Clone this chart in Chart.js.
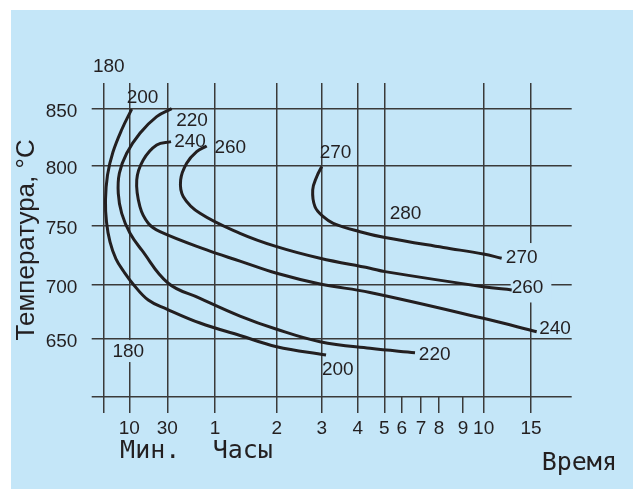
<!DOCTYPE html>
<html>
<head>
<meta charset="utf-8">
<script src="https://cdn.jsdelivr.net/npm/chart.js@4.4.1/dist/chart.umd.min.js"></script>
<style>
  html, body { margin: 0; padding: 0; background: #ffffff; }
  canvas { display: block; }
</style>
</head>
<body>
<canvas id="c" width="633" height="489"></canvas>
<script>
// ---------------- DATA (time in hours, temperature in °C) ----------------
const curveNames = ['200', '220', '240', '260', '270'];

const hours200 = [0.188, 0.120, 0.062, 0.027, 0.014, 0.0205, 0.043, 0.081, 0.133, 0.199, 0.333, 0.495, 0.843, 1.405, 2.0, 3.12];
const temps200 = [849.7, 832.2, 812.0, 792.3, 771.4, 753.1, 736.1, 721.6, 710.5, 700.3, 685.6, 677.4, 664.6, 653.2, 643.3, 636.1];

const hours220 = [0.546, 0.407, 0.260, 0.150, 0.103, 0.096, 0.118, 0.173, 0.275, 0.510, 0.843, 1.405, 2.0, 2.962, 4.462, 6.689];
const temps220 = [850, 843.0, 828.4, 810.9, 793.7, 777.0, 760.3, 743.5, 729.3, 700.9, 687.2, 671.0, 658.9, 647.7, 641.9, 638.1];

const hours240 = [0.539, 0.407, 0.289, 0.232, 0.260, 0.333, 0.436, 0.913, 1.405, 2.0, 2.962, 4.462, 9.98, 15.6];
const temps240 = [821.1, 818.2, 805.0, 788.1, 765.8, 752.0, 744.9, 729.3, 719.8, 709.4, 700.3, 692.5, 668.9, 656.7];

const hours260 = [0.913, 0.808, 0.703, 0.640, 0.668, 0.843, 1.405, 2.0, 2.962, 4.462, 5.04, 9.98, 12.96];
const temps260 = [817.3, 812.3, 802.1, 788.1, 774.2, 760.3, 743.5, 732.1, 722.2, 713.7, 710.8, 697.8, 694.8];

const hours270 = [3.0, 2.889, 2.80, 2.851, 3.044, 3.322, 4.086, 5.04, 8.18, 9.98, 11.9];
const temps270 = [799.2, 790.8, 779.8, 765.8, 757.5, 752.0, 744.9, 739.9, 731.4, 725.9, 722.2];

// curve labels (text, hours, °C)
const labelTexts = ['180', '200', '220', '240', '260', '270', '280', '270', '260', '240', '220', '200', '180'];
const labelHours = [0.035, 0.2825, 0.759, 0.738, 1.248, 3.383, 6.197, 14.02, 14.63, 17.54, 7.76, 3.447, 0.16];
const labelTemps = [886.2, 859.7, 839.2, 821.4, 815.5, 811.1, 759.8, 722.4, 697.1, 659.1, 636.1, 623.3, 638.7];

// axes
const yTicks = [600, 650, 700, 750, 800, 850];
const yTickLabels = ['', '650', '700', '750', '800', '850'];
const xTickHours = [0, 1/6, 0.5, 1, 2, 3, 4, 5, 6, 7, 8, 9, 10, 15];
const xTickLabels = ['', '10', '30', '1', '2', '3', '4', '5', '6', '7', '8', '9', '10', '15'];
const xMinorTicks = [6, 7, 8, 9];
// both axes of the original are hand-drawn and unevenly stretched:
// value -> relative position along the axis (0..100)
const axisStopHours = [0, 1/6, 0.5, 1, 2, 3, 4, 5, 6, 7, 8, 9, 10, 15, 19.3];
const axisStopPositions = [0, 5.55, 13.66, 23.85, 37.02, 46.63, 54.31, 59.99, 63.71, 67.83, 71.67, 76.79, 81.21, 91.31, 100];
const tempStopValues = [600, 650, 700, 750, 800, 850, 872.3];
const tempStopPositions = [0, 18.39, 35.83, 54.51, 73.64, 91.81, 100];

// ---------------- STYLE ----------------
const ink = '#231f20';
const gridInk = '#3a3a3a';
const bgBlue = '#c4e6f8';
const labelFont = '19px "Liberation Sans", Arial, sans-serif';
const unitFont = '25px "DejaVu Sans Mono", monospace';
const knockoutPads = { 7: [2, 8, 2, 8], 8: [1, 8, 8, 8], 12: [2, 5, 2, 3] };

Chart.defaults.font.family = '"Liberation Sans", Arial, sans-serif';

// ---------------- custom stretched scales ----------------
function interp(v, xs, ys) {
  let i = 1;
  while (i < xs.length - 1 && v > xs[i]) i++;
  return ys[i - 1] + (v - xs[i - 1]) * (ys[i] - ys[i - 1]) / (xs[i] - xs[i - 1]);
}
function makeStretchedScale(id, values, positions) {
  class StretchedScale extends Chart.LinearScale {
    getPixelForValue(value) {
      const a = interp(this.min, values, positions);
      const b = interp(this.max, values, positions);
      return this.getPixelForDecimal((interp(value, values, positions) - a) / (b - a));
    }
    getValueForPixel(pixel) {
      const a = interp(this.min, values, positions);
      const b = interp(this.max, values, positions);
      return interp(a + this.getDecimalForPixel(pixel) * (b - a), positions, values);
    }
  }
  StretchedScale.id = id;
  StretchedScale.defaults = Chart.LinearScale.defaults;
  return StretchedScale;
}
Chart.register(
  makeStretchedScale('stretchedTime', axisStopHours, axisStopPositions),
  makeStretchedScale('stretchedTemp', tempStopValues, tempStopPositions)
);

const series = [
  [hours200, temps200], [hours220, temps220], [hours240, temps240],
  [hours260, temps260], [hours270, temps270]
];

const decor = {
  id: 'decor',
  beforeDraw(chart) {
    const c = chart.ctx;
    c.save();
    c.fillStyle = '#ffffff';
    c.fillRect(0, 0, chart.width, chart.height);
    c.fillStyle = bgBlue;
    c.fillRect(11, 10, chart.width - 11, chart.height - 10);
    c.restore();
  },
  beforeDatasetsDraw(chart) {
    const { ctx, scales: { x, y } } = chart;
    ctx.save();
    ctx.font = labelFont;
    ctx.fillStyle = bgBlue;
    labelTexts.forEach((t, i) => {
      const k = knockoutPads[i];
      if (!k) return;
      const px = x.getPixelForValue(labelHours[i]);
      const py = y.getPixelForValue(labelTemps[i]);
      const w = ctx.measureText(t).width, h = 14;
      ctx.fillRect(px - w / 2 - k[0], py - h / 2 - k[1], w + k[0] + k[2], h + k[1] + k[3]);
    });
    ctx.restore();
  },
  afterDatasetsDraw(chart) {
    const { ctx, scales: { x, y }, chartArea } = chart;
    ctx.save();
    ctx.fillStyle = ink;
    ctx.font = labelFont;
    ctx.textAlign = 'center';
    ctx.textBaseline = 'middle';
    labelTexts.forEach((t, i) => {
      ctx.fillText(t, x.getPixelForValue(labelHours[i]), y.getPixelForValue(labelTemps[i]));
    });
    ctx.font = unitFont;
    ctx.textBaseline = 'alphabetic';
    ctx.textAlign = 'center';
    ctx.fillText('Мин.', x.getPixelForValue(0.35), chartArea.bottom + 61.6);
    ctx.fillText('Часы', x.getPixelForValue(1.45), chartArea.bottom + 61.6);
    ctx.textAlign = 'left';
    ctx.fillText('Время', chartArea.right - 30, chartArea.bottom + 73.3);
    ctx.restore();
  }
};

new Chart(document.getElementById('c'), {
  type: 'scatter',
  data: {
    datasets: series.map((s, i) => ({
      label: curveNames[i],
      data: s[0].map((h, j) => ({ x: h, y: s[1][j] })),
      showLine: true,
      borderColor: ink,
      borderWidth: 3,
      pointRadius: 0,
      tension: 0.4,
      fill: false
    }))
  },
  options: {
    responsive: false,
    animation: false,
    devicePixelRatio: 1,
    layout: { padding: { left: 11, top: 83, right: 61.3, bottom: 0 } },
    plugins: { legend: { display: false }, tooltip: { enabled: false } },
    scales: {
      x: {
        type: 'stretchedTime',
        min: 0,
        max: 19.3,
        afterBuildTicks: s => { s.ticks = xTickHours.map(v => ({ value: v })); },
        afterFit: s => { s.height = 92.3; },
        grid: {
          color: c => (c.tick && xMinorTicks.includes(c.tick.value)) ? 'rgba(0,0,0,0)' : gridInk,
          tickColor: gridInk,
          lineWidth: 1.5,
          tickLength: 16.3
        },
        border: { display: false },
        ticks: {
          autoSkip: false, maxRotation: 0, minRotation: 0, padding: 4,
          color: ink, font: { size: 19 },
          callback: (v, i) => xTickLabels[i]
        }
      },
      y: {
        type: 'stretchedTemp',
        min: 600,
        max: 872.3,
        afterBuildTicks: s => { s.ticks = yTicks.map(v => ({ value: v })); },
        afterFit: s => { s.width = 92.3; },
        grid: { color: gridInk, lineWidth: 1.5, tickLength: 11.6 },
        border: { display: false },
        ticks: {
          padding: 14.3, labelOffset: 3, color: ink, font: { size: 19 },
          callback: (v, i) => yTickLabels[i]
        },
        title: {
          display: true, text: 'Температура, °C', color: ink,
          font: { size: 26 }, padding: 0
        }
      }
    }
  },
  plugins: [decor]
});
</script>
</body>
</html>
